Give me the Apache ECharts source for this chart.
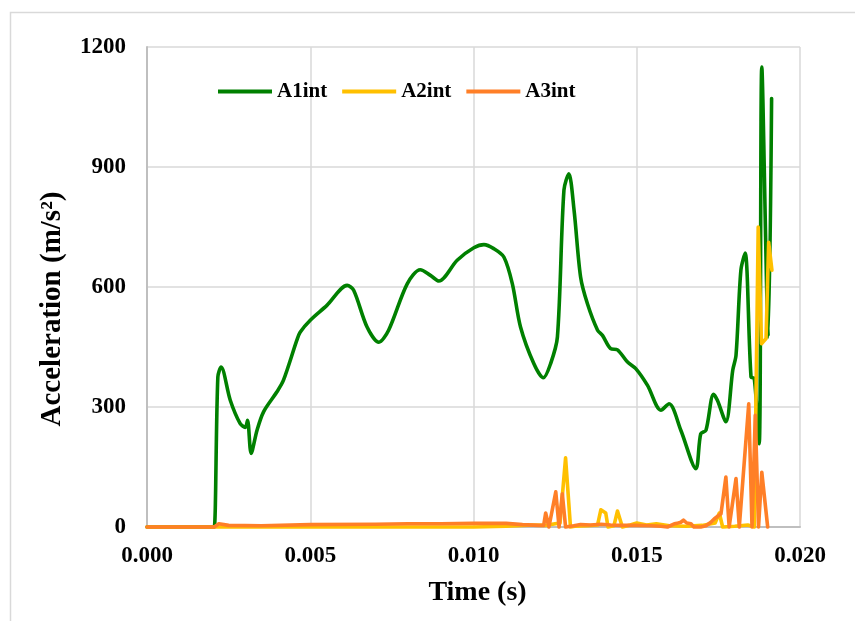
<!DOCTYPE html>
<html>
<head>
<meta charset="utf-8">
<script src="https://cdn.jsdelivr.net/npm/echarts@6/dist/echarts.min.js"></script>
<style>
  html, body { margin: 0; padding: 0; background: #ffffff; }
  #chart { width: 855px; height: 621px; }
</style>
</head>
<body>
<div id="chart"></div>
<script>
// Integrated acceleration of three channels over time
const seriesNames = ['A1int', 'A2int', 'A3int'];

const a1Time = [0, 0.0010, 0.0020, 0.00206, 0.00217, 0.00227, 0.00255, 0.00285, 0.00301, 0.00308,
  0.00319, 0.00337, 0.00357, 0.00398, 0.00418, 0.00459, 0.00469, 0.00500, 0.00551, 0.00613,
  0.00633, 0.00674, 0.00710, 0.00740, 0.00797, 0.00837, 0.00868, 0.00894, 0.00950, 0.01001,
  0.01032, 0.01062, 0.01093, 0.01119, 0.01144, 0.01185, 0.01214, 0.01236, 0.01257, 0.01277,
  0.01292, 0.01308, 0.01328, 0.01349, 0.01380, 0.01395, 0.01420, 0.01441, 0.01471, 0.01497,
  0.01533, 0.01574, 0.01599, 0.01635, 0.01681, 0.01696, 0.01712, 0.01735, 0.01747, 0.01773,
  0.01794, 0.01804, 0.01819, 0.01832, 0.01850, 0.01860, 0.01875, 0.01883, 0.01903, 0.01913];
const a1Accel = [0, 0, 0, 0, 375, 400, 317, 259, 249, 267,
  184, 242, 288, 338, 367, 467, 487, 517, 554, 604,
  592, 500, 462, 492, 608, 643, 629, 615, 667, 698,
  706, 696, 675, 608, 500, 408, 373, 408, 475, 842,
  883, 792, 625, 558, 492, 479, 446, 443, 413, 396,
  354, 292, 308, 242, 146, 233, 242, 332, 317, 263,
  392, 429, 642, 685, 375, 371, 208, 1150, 475, 1071];

const a2Time = [0, 0.0021, 0.0040, 0.0060, 0.0080, 0.0100, 0.0110, 0.0118, 0.0122, 0.01265,
  0.01282, 0.01297, 0.0131, 0.0135, 0.01380, 0.01390, 0.01405, 0.01412, 0.01430, 0.01441,
  0.01456, 0.01480, 0.01500, 0.01530, 0.01560, 0.01600, 0.01650, 0.01700, 0.01740, 0.01753,
  0.01763, 0.01800, 0.01840, 0.01860, 0.01872, 0.01882, 0.01896, 0.01904, 0.01914];
const a2Accel = [0, 0, 0, 0, 0, 0, 2, 5, 4, 10,
  173, 0, 2, 3, 5, 43, 35, 0, 3, 40,
  0, 5, 10, 5, 8, 3, 2, 4, 10, 35,
  0, 2, 5, 0, 750, 458, 471, 712, 642];

const a3Time = [0, 0.00206, 0.0022, 0.0025, 0.0035, 0.0050, 0.0070, 0.0080, 0.0090, 0.0100,
  0.0110, 0.0115, 0.0120, 0.01215, 0.01221, 0.01231, 0.01252, 0.01262, 0.01272, 0.01282,
  0.01307, 0.01328, 0.01359, 0.01390, 0.01420, 0.01451, 0.01497, 0.01543, 0.01574, 0.01594,
  0.01615, 0.01623, 0.01635, 0.01643, 0.01653, 0.01666, 0.01675, 0.01696, 0.01712, 0.01727,
  0.01737, 0.01758, 0.01764, 0.01773, 0.01783, 0.01804, 0.01814, 0.01843, 0.01853, 0.01863,
  0.01873, 0.01883, 0.01901];
const a3Accel = [0, 0, 8, 4, 3, 6, 7, 8, 8, 9,
  9, 6, 4, 4, 35, 0, 88, 0, 83, 0,
  3, 6, 5, 7, 5, 4, 4, 3, 2, 0,
  8, 9, 12, 17, 10, 8, 0, 0, 3, 12,
  20, 33, 28, 125, 0, 121, 0, 308, 0, 279,
  0, 137, 0];

const xTickValues = [0, 0.005, 0.010, 0.015, 0.020];
const yTickValues = [0, 300, 600, 900, 1200];

const seriesColors = ['#008000', '#FFC000', '#FF7F27'];
const serifFont = '"Liberation Serif", "Times New Roman", serif';

function pairs(xs, ys) {
  return xs.map((x, i) => [x, ys[i]]);
}

const chart = echarts.init(document.getElementById('chart'), null, { renderer: 'canvas' });

const lineSeries = [
  { name: seriesNames[0], data: pairs(a1Time, a1Accel), smooth: 0.3 },
  { name: seriesNames[1], data: pairs(a2Time, a2Accel), smooth: false },
  { name: seriesNames[2], data: pairs(a3Time, a3Accel), smooth: false }
].map((s, i) => ({
  type: 'line',
  name: s.name,
  data: s.data,
  smooth: s.smooth,
  showSymbol: false,
  clip: false,
  z: 2 + i,
  color: seriesColors[i],
  lineStyle: { width: 3.6, color: seriesColors[i], cap: 'round', join: 'round' }
}));

chart.setOption({
  animation: false,
  backgroundColor: '#ffffff',
  graphic: [{
    type: 'rect',
    shape: { x: 10.5, y: 12.5, width: 1000, height: 1000 },
    style: { fill: 'none', stroke: '#d9d9d9', lineWidth: 1.5 },
    silent: true,
    z: -10
  }],
  grid: { left: 147, right: 55, top: 47, bottom: 94, containLabel: false },
  legend: {
    data: seriesNames,
    left: 213,
    top: 76,
    icon: 'rect',
    itemWidth: 54,
    itemHeight: 4,
    itemGap: 15,
    textStyle: { fontFamily: serifFont, fontWeight: 'bold', fontSize: 21, color: '#000' }
  },
  xAxis: {
    type: 'value',
    min: xTickValues[0],
    max: xTickValues[xTickValues.length - 1],
    interval: xTickValues[1] - xTickValues[0],
    name: 'Time (s)',
    nameLocation: 'middle',
    nameGap: 52,
    nameTextStyle: { fontFamily: serifFont, fontWeight: 'bold', fontSize: 28, color: '#000', padding: [0, 0, 0, 8] },
    axisLine: { show: true, lineStyle: { color: '#bfbfbf', width: 2 } },
    axisTick: { show: false },
    axisLabel: {
      margin: 18,
      fontFamily: serifFont, fontWeight: 'bold', fontSize: 23, color: '#000',
      formatter: v => v.toFixed(3)
    },
    splitLine: { show: true, lineStyle: { color: '#d9d9d9', width: 1.5 } }
  },
  yAxis: {
    type: 'value',
    min: yTickValues[0],
    max: yTickValues[yTickValues.length - 1],
    interval: yTickValues[1] - yTickValues[0],
    name: 'Acceleration (m/s²)',
    nameLocation: 'middle',
    nameGap: 80,
    nameTextStyle: { fontFamily: serifFont, fontWeight: 'bold', fontSize: 29, color: '#000', padding: [0, 44, 0, 0] },
    axisLine: { show: true, lineStyle: { color: '#bfbfbf', width: 2 } },
    axisTick: { show: false },
    axisLabel: {
      margin: 21,
      fontFamily: serifFont, fontWeight: 'bold', fontSize: 23, color: '#000',
      formatter: v => String(v)
    },
    splitLine: { show: true, lineStyle: { color: '#d9d9d9', width: 1.5 } }
  },
  series: lineSeries
});
</script>
</body>
</html>
